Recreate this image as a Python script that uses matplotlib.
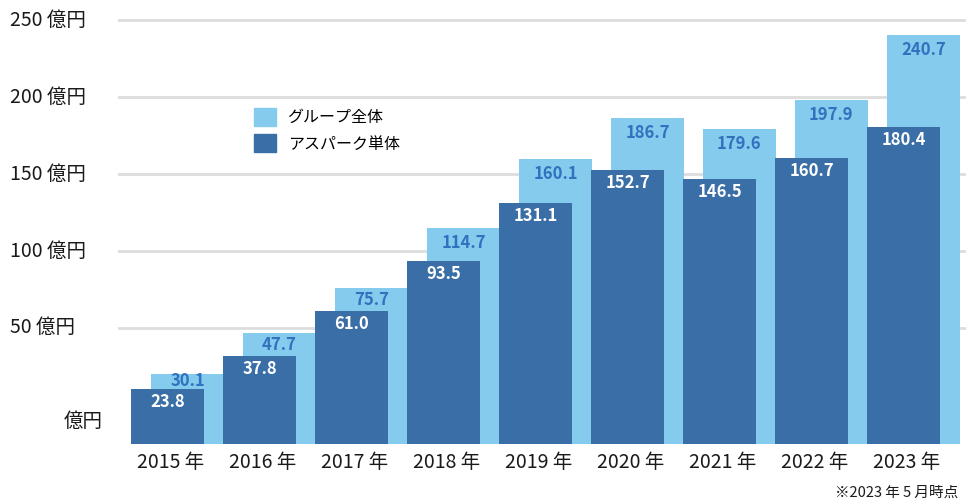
import numpy as np
import matplotlib.pyplot as plt
from matplotlib.patches import Patch
import matplotlib.transforms as mtransforms

plt.rcParams['font.family'] = ['Noto Sans CJK JP', 'DejaVu Sans']

years = ['2015 年', '2016 年', '2017 年', '2018 年', '2019 年',
         '2020 年', '2021 年', '2022 年', '2023 年']
group_total = [30.1, 47.7, 75.7, 114.7, 160.1, 186.7, 179.6, 197.9, 240.7]
aspark_only = [23.8, 37.8, 61.0, 93.5, 131.1, 152.7, 146.5, 160.7, 180.4]
ytick_vals = [50, 100, 150, 200, 250]
ytick_labels = ['50 億円', '100 億円', '150 億円', '200 億円', '250 億円']

light = '#84cbee'
dark = '#3a6ea6'
light_text = '#2f72bd'
txt = '#1a1a1a'

# the original stretches the part below 50 a bit, so the axis does too
k = 1.51


def fwd(v):
    v = np.asarray(v, dtype=float)
    return np.where(v < 50, v * k, 50 * k + (v - 50))


def inv(u):
    u = np.asarray(u, dtype=float)
    return np.where(u < 50 * k, u / k, u - 50 * k + 50)


width = 0.79
shift = 0.217

fig = plt.figure(figsize=(9.66, 5.04), dpi=100)
ax = fig.add_axes([118 / 966, 60 / 504, 848 / 966, 426 / 504])
ax.set_yscale('function', functions=(fwd, inv))
ax.set_xlim(-0.538, 8.68)
ax.set_ylim(0, 251.5)

x = np.arange(len(years))
for v in ytick_vals:
    ax.axhline(v, color='#dddddd', lw=2, zorder=0)

ax.bar(x + shift, group_total, width=width, color=light, zorder=2)
ax.bar(x, aspark_only, width=width, color=dark, zorder=3)

for i in range(len(years)):
    yg = ax.transData.transform((0, group_total[i]))[1]
    ya = ax.transData.transform((0, aspark_only[i]))[1]
    off = min(15, (yg - ya) / 2)
    ax.annotate(f'{group_total[i]:.1f}', (x[i] + shift, group_total[i]),
                xytext=(0, -off), textcoords='offset pixels', ha='center',
                va='center', color=light_text, fontsize=12, fontweight='bold',
                zorder=4)
    ax.annotate(f'{aspark_only[i]:.1f}', (x[i], aspark_only[i]),
                xytext=(0, -13), textcoords='offset pixels', ha='center',
                va='center', color='white', fontsize=12, fontweight='bold',
                zorder=4)

ax.set_xticks(x + 0.03)
ax.set_xticklabels(years, fontsize=14, color=txt)
ax.tick_params(axis='x', length=0, pad=6)
ax.set_yticks([])
ax.minorticks_off()
for s in ax.spines.values():
    s.set_visible(False)

# y labels sit left aligned in the margin
trans = mtransforms.blended_transform_factory(fig.transFigure, ax.transData)
for v, lab in zip(ytick_vals, ytick_labels):
    ax.text(10 / 966, v, lab, transform=trans, ha='left', va='center',
            fontsize=14, color=txt)
ax.text(64 / 966, 9.5, '億円', transform=trans, ha='left', va='center',
        fontsize=14, color=txt)

handles = [Patch(color=light, label='グループ全体'),
           Patch(color=dark, label='アスパーク単体')]
ax.legend(handles=handles, loc='upper left',
          bbox_to_anchor=((254 - 118) / 848, (444 - 108) / 426),
          frameon=False, fontsize=11.5, handlelength=1.35, handleheight=1.35,
          handletextpad=0.75, labelspacing=0.5, borderaxespad=0,
          borderpad=0)

fig.text(958 / 966, 1 - 493 / 504, '※2023 年 5 月時点', ha='right',
         va='center', fontsize=10.5, color=txt)

fig.savefig('out.png', dpi=100)
